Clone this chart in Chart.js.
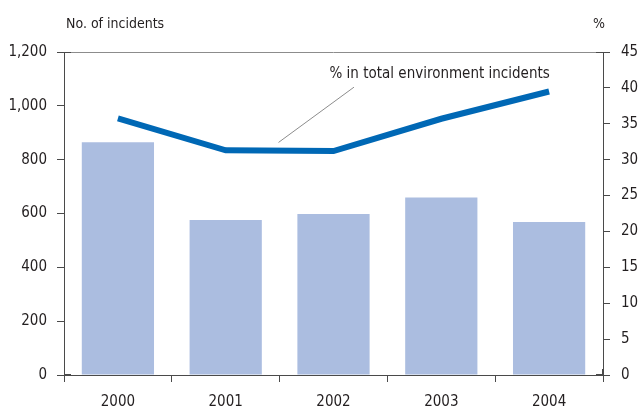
<!DOCTYPE html>
<html>
<head>
<meta charset="utf-8">
<script src="https://cdn.jsdelivr.net/npm/chart.js@4"></script>
<style>
  html, body { margin: 0; padding: 0; background: #fff; }
  #wrap { width: 641px; height: 408px; }
</style>
</head>
<body>
<div id="wrap"><canvas id="incidents" width="641" height="408"></canvas></div>
<script>
const years = ["2000", "2001", "2002", "2003", "2004"];
const incidentCounts = [865, 576, 598, 659, 568];
const shareOfTotal = [35.75, 31.3, 31.2, 35.7, 39.5];
const countTicks = [0, 200, 400, 600, 800, 1000, 1200];
const percentTicks = [0, 5, 10, 15, 20, 25, 30, 35, 40, 45];

const FONT = "'Liberation Sans Narrow', 'DejaVu Sans Condensed', 'Roboto Condensed', sans-serif";
const TEXT = "#231f20";
const AXIS = "#4a4a4a";

// titles, top frame line, callout text and its leader line
const decorations = {
  id: "decorations",
  afterDraw(chart) {
    const { ctx, chartArea: a, scales } = chart;
    const x = scales.x, y1 = scales.y1;
    ctx.save();

    ctx.strokeStyle = "#8c8c8c";
    ctx.lineWidth = 1;
    ctx.beginPath();
    ctx.moveTo(a.left, a.top + 0.5);
    ctx.lineTo(a.right, a.top + 0.5);
    ctx.stroke();

    // short inner ticks at the corners
    ctx.strokeStyle = AXIS;
    ctx.beginPath();
    ctx.moveTo(a.left, a.top + 0.5); ctx.lineTo(a.left + 7, a.top + 0.5);
    ctx.moveTo(a.left, a.bottom - 0.5); ctx.lineTo(a.left + 7, a.bottom - 0.5);
    ctx.moveTo(a.right, a.top + 0.5); ctx.lineTo(a.right - 7, a.top + 0.5);
    ctx.moveTo(a.right, a.bottom - 0.5); ctx.lineTo(a.right - 7, a.bottom - 0.5);
    ctx.moveTo(a.left + 0.5, a.bottom); ctx.lineTo(a.left + 0.5, a.bottom - 6);
    ctx.moveTo(a.right - 0.5, a.bottom); ctx.lineTo(a.right - 0.5, a.bottom - 6);
    ctx.stroke();

    ctx.fillStyle = TEXT;
    ctx.font = "14px " + FONT;
    ctx.textBaseline = "middle";
    ctx.textAlign = "left";
    ctx.fillText("No. of incidents", a.left + 2, 24);
    ctx.textAlign = "center";
    ctx.fillText("%", a.right - 4, 24);

    ctx.font = "15px " + FONT;
    ctx.textAlign = "left";
    ctx.fillText("% in total environment incidents", x.getPixelForValue(2) - 4, y1.getPixelForValue(41.9));

    ctx.strokeStyle = "#8c8c8c";
    ctx.lineWidth = 1;
    ctx.beginPath();
    ctx.moveTo(x.getPixelForValue(2.19), y1.getPixelForValue(40.1));
    ctx.lineTo(x.getPixelForValue(1.49), y1.getPixelForValue(32.4));
    ctx.stroke();

    ctx.restore();
  }
};

new Chart(document.getElementById("incidents"), {
  type: "bar",
  data: {
    labels: years,
    datasets: [
      {
        type: "line",
        label: "% in total environment incidents",
        data: shareOfTotal,
        yAxisID: "y1",
        borderColor: "#0068b5",
        borderWidth: 6,
        pointRadius: 0,
        tension: 0,
        order: 0,
      },
      {
        label: "No. of incidents",
        data: incidentCounts,
        yAxisID: "y",
        backgroundColor: "#abbde0",
        categoryPercentage: 1,
        barPercentage: 0.67,
        order: 1,
      },
    ],
  },
  options: {
    responsive: false,
    animation: false,
    devicePixelRatio: 1,
    layout: { padding: { top: 52, left: 0, right: 0, bottom: 0 } },
    plugins: { legend: { display: false }, tooltip: { enabled: false } },
    scales: {
      x: {
        grid: { drawOnChartArea: false, tickLength: 7, color: AXIS, offset: true },
        border: { color: AXIS },
        ticks: { color: TEXT, font: { family: FONT, size: 15 }, padding: 11 },
        afterFit: (s) => { s.height = 33; },
      },
      y: {
        position: "left",
        min: 0,
        max: 1200,
        afterBuildTicks: (s) => { s.ticks = countTicks.map((v) => ({ value: v })); },
        grid: { drawOnChartArea: false, tickLength: 7, color: AXIS },
        border: { color: AXIS },
        ticks: {
          color: TEXT,
          font: { family: FONT, size: 15 },
          padding: 10,
          callback: (v) => v.toLocaleString("en-US"),
        },
        afterFit: (s) => { s.width = 64; },
      },
      y1: {
        position: "right",
        min: 0,
        max: 45,
        afterBuildTicks: (s) => { s.ticks = percentTicks.map((v) => ({ value: v })); },
        grid: { drawOnChartArea: false, tickLength: 7, color: AXIS },
        border: { color: AXIS },
        ticks: { color: TEXT, font: { family: FONT, size: 15 }, padding: 11 },
        afterFit: (s) => { s.width = 38; },
      },
    },
  },
  plugins: [decorations],
});
</script>
</body>
</html>
